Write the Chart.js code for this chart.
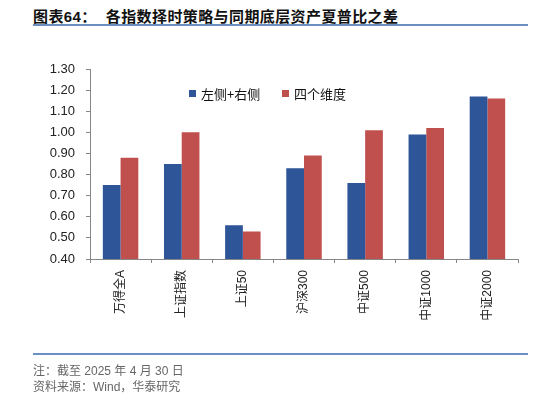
<!DOCTYPE html>
<html lang="zh">
<head>
    <meta charset="UTF-8">
    <title>各指数择时策略与同期底层资产夏普比之差</title>
    <script src="https://cdn.jsdelivr.net/npm/chart.js"></script>
    <style>
        body { margin: 0; width: 534px; height: 398px; position: relative; background: #fff; overflow: hidden;
               font-family: "Liberation Sans", "Noto Sans CJK SC", sans-serif; }
        .title { position: absolute; left: 33px; top: 5px; font-size: 15px; font-weight: bold; color: #111;
                 letter-spacing: 0.4px; font-family: "Liberation Sans", "Noto Sans CJK SC", sans-serif; }
        .rule { position: absolute; left: 33px; width: 495px; height: 2px; background: #6b8fc3; }
        .legend { position: absolute; top: 84px; font-size: 13px; color: #111; font-family: "Noto Sans CJK SC", sans-serif; }
        .legend span.box { display: inline-block; width: 7px; height: 7px; margin-right: 5px; vertical-align: 2px; }
        .note { position: absolute; left: 33px; font-size: 12px; color: #666; }
        #wrap { position: absolute; left: 0; top: 0; width: 534px; height: 398px; }
    </style>
</head>
<body>
    <div class="title">图表64：&nbsp;&nbsp;各指数择时策略与同期底层资产夏普比之差</div>
    <div class="rule" style="top: 24px;"></div>

    <div id="wrap"><canvas id="chart"></canvas></div>

    <div class="legend" style="left: 189px;"><span class="box" style="background:#2E5597"></span>左侧+右侧</div>
    <div class="legend" style="left: 282px;"><span class="box" style="background:#C0504D"></span>四个维度</div>

    <div class="rule" style="top: 353px;"></div>
    <div class="note" style="top: 361px;">注：截至 2025 年 4 月 30 日</div>
    <div class="note" style="top: 377px;">资料来源：Wind，华泰研究</div>

    <script>
        const categories = ['万得全A', '上证指数', '上证50', '沪深300', '中证500', '中证1000', '中证2000'];
        const leftRight = [0.75, 0.85, 0.56, 0.83, 0.76, 0.99, 1.17];
        const fourDims = [0.88, 1.00, 0.53, 0.89, 1.01, 1.02, 1.16];
        const seriesNames = ['左侧+右侧', '四个维度'];
        const yTicks = [0.40, 0.50, 0.60, 0.70, 0.80, 0.90, 1.00, 1.10, 1.20, 1.30];

        const axisColor = '#868686';

        new Chart(document.getElementById('chart'), {
            type: 'bar',
            data: {
                labels: categories,
                datasets: [
                    { label: seriesNames[0], data: leftRight, backgroundColor: '#2E5597' },
                    { label: seriesNames[1], data: fourDims, backgroundColor: '#C0504D' }
                ]
            },
            options: {
                responsive: true,
                maintainAspectRatio: false,
                animation: false,
                layout: { padding: { left: 0, top: 69, right: 16, bottom: 59 } },
                plugins: { legend: { display: false }, tooltip: { enabled: false } },
                datasets: { bar: { categoryPercentage: 0.58, barPercentage: 1.0 } },
                scales: {
                    x: {
                        grid: { display: true, drawOnChartArea: false, offset: true, tickLength: 4, color: axisColor },
                        border: { color: axisColor },
                        ticks: {
                            minRotation: 90, maxRotation: 90, padding: 7, autoSkip: false,
                            color: '#222', font: { size: 12, family: '"Liberation Sans", "Noto Sans CJK SC", sans-serif' }
                        },
                        afterFit: function(scale) { scale.height = 80; }
                    },
                    y: {
                        min: 0.40, max: 1.30,
                        grid: { display: true, drawOnChartArea: false, tickLength: 4, color: axisColor },
                        border: { color: axisColor },
                        afterBuildTicks: function(scale) { scale.ticks = yTicks.map(v => ({ value: v })); },
                        ticks: {
                            padding: 11, color: '#222',
                            font: { size: 13, family: '"Liberation Sans", sans-serif' },
                            callback: v => v.toFixed(2)
                        },
                        afterFit: function(scale) { scale.width = 90; }
                    }
                }
            }
        });
    </script>
</body>
</html>
